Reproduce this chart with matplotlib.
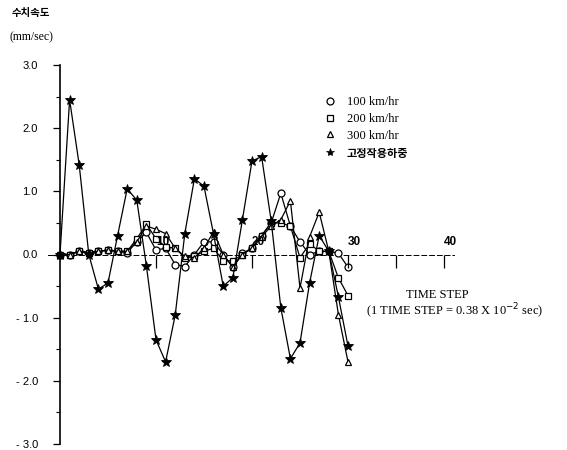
import matplotlib
matplotlib.use("Agg")
import matplotlib.pyplot as plt
from matplotlib.lines import Line2D
import numpy as np

# ---- data ----
steps = list(range(0, 31))
v100 = [0, 0, 0.05, 0.03, 0.05, 0.07, 0.05, 0.03, 0.20, 0.35, 0.07, 0.10, -0.16, -0.19, 0.00,
        0.20, 0.20, 0.00, -0.20, 0.02, 0.10, 0.30, 0.50, 0.97, 0.45, 0.20, 0.00, 0.05, 0.05, 0.02, -0.20]
v200 = [0, 0, 0.05, 0.03, 0.05, 0.07, 0.05, 0.05, 0.25, 0.48, 0.25, 0.12, 0.10, -0.05, -0.03,
        0.05, 0.10, -0.10, -0.10, 0.00, 0.10, 0.30, 0.50, 0.50, 0.45, -0.05, 0.17, 0.05, 0.05, -0.37, -0.65]
v300 = [0, 0, 0.05, 0.03, 0.05, 0.07, 0.05, 0.05, 0.20, 0.45, 0.40, 0.33, 0.10, -0.03, -0.05,
        0.10, 0.36, 0.00, -0.20, 0.00, 0.10, 0.28, 0.45, 0.55, 0.85, -0.53, 0.28, 0.67, 0.05, -0.95, -1.70]
vfix = [0, 2.45, 1.42, 0.00, -0.55, -0.45, 0.30, 1.04, 0.86, -0.18, -1.35, -1.70, -0.96, 0.33, 1.20,
        1.08, 0.32, -0.50, -0.37, 0.55, 1.48, 1.55, 0.53, -0.84, -1.65, -1.40, -0.45, 0.30, 0.05, -0.67, -1.45]

series_labels = ["100 km/hr", "200 km/hr", "300 km/hr", "고정작용하중"]
yticks = [-3, -2, -1, 0, 1, 2, 3]
ytick_labels = ["- 3.0", "- 2.0", "- 1.0", "0.0", "1.0", "2.0", "3.0"]
xticks = [10, 20, 30, 40]
xtick_labels = ["10", "20", "30", "40"]

W, H = 567, 450
fig = plt.figure(figsize=(W / 100, H / 100), dpi=100)
fig.patch.set_facecolor("white")

serif = ["Liberation Serif", "DejaVu Serif"]
sans = ["Liberation Sans", "DejaVu Sans"]
kr = ["Noto Sans CJK KR", "DejaVu Sans"]

xmax = 41
px_per_step = 9.6
left_px, top_px, bottom_px = 60, 65, 444
ax = fig.add_axes([left_px / W, (H - bottom_px) / H, xmax * px_per_step / W, (bottom_px - top_px) / H])
ax.set_xlim(0, xmax)
ax.set_ylim(-3, 3)

lw = 0.9
ax.plot(steps, v100, color="black", lw=lw, marker="o", ms=5, mfc="white", mec="black", mew=0.9, clip_on=False, zorder=3)
ax.plot(steps, v200, color="black", lw=lw, marker="s", ms=4.5, mfc="white", mec="black", mew=0.9, clip_on=False, zorder=3)
ax.plot(steps, v300, color="black", lw=lw, marker="^", ms=4.5, mfc="white", mec="black", mew=0.9, clip_on=False, zorder=3)
ax.plot(steps, vfix, color="black", lw=lw, marker="*", ms=7, mfc="black", mec="black", mew=0.6, clip_on=False, zorder=4)

# spines
for s in ["top", "right"]:
    ax.spines[s].set_visible(False)
ax.spines["left"].set_linewidth(1.2)
ax.spines["bottom"].set_position(("data", 0))
ax.spines["bottom"].set_linestyle((0, (5, 3)))
ax.spines["bottom"].set_linewidth(0.7)
ax.spines["bottom"].set_bounds(-1.2, xmax)

ax.set_yticks(yticks)
ax.set_yticklabels(ytick_labels, fontsize=8, family=sans)
ax.set_yticks([-2.5, -1.5, -0.5, 0.5, 1.5, 2.5], minor=True)
ax.tick_params(axis="y", which="major", direction="out", length=5, width=0.9, pad=11)
ax.tick_params(axis="y", which="minor", direction="out", length=3, width=0.8)

ax.set_xticks(xticks)
ax.set_xticklabels(xtick_labels, fontsize=8.5, family=sans, fontweight="bold")
ax.set_xticks([35], minor=True)
ax.tick_params(axis="x", which="major", direction="out", length=9, width=0.9, pad=-22)
ax.tick_params(axis="x", which="minor", direction="out", length=9, width=0.9)
for lab in ax.get_xticklabels():
    lab.set_horizontalalignment("left")
ax.xaxis.set_zorder(6)

# y-axis title
fig.text(12 / W, 1 - 13 / H, "수치속도", fontsize=7.5, family=kr, fontweight="bold", va="center", ha="left")
fig.text(10 / W, 1 - 37 / H, "(mm/sec)", fontsize=8.5, family=serif, va="center", ha="left")

# x-axis titles
fig.text(437 / W, 1 - 295 / H, "TIME STEP", fontsize=9, family=serif, va="center", ha="center")
fig.text(455 / W, 1 - 311 / H, "(1 TIME STEP = 0.38 X 10$^{-2}$ sec)", fontsize=9, family=serif, va="center", ha="center")

# legend
handles = [
    Line2D([], [], ls="none", marker="o", ms=5, mfc="white", mec="black", mew=0.9),
    Line2D([], [], ls="none", marker="s", ms=4.5, mfc="white", mec="black", mew=0.9),
    Line2D([], [], ls="none", marker="^", ms=4.5, mfc="white", mec="black", mew=0.9),
    Line2D([], [], ls="none", marker="*", ms=6, mfc="black", mec="black", mew=0.5),
]
leg = fig.legend(handles, series_labels, loc="upper left", bbox_to_anchor=(312 / W, 1 - 85 / H),
                 frameon=False, handlelength=1.0, handletextpad=0.9, labelspacing=0.38,
                 prop={"family": serif + kr, "size": 9})
for t in leg.get_texts():
    if t.get_text() == "고정작용하중":
        t.set_fontfamily(kr)
        t.set_fontsize(8)
        t.set_fontweight("bold")

fig.savefig("out.png", dpi=100, facecolor="white")
